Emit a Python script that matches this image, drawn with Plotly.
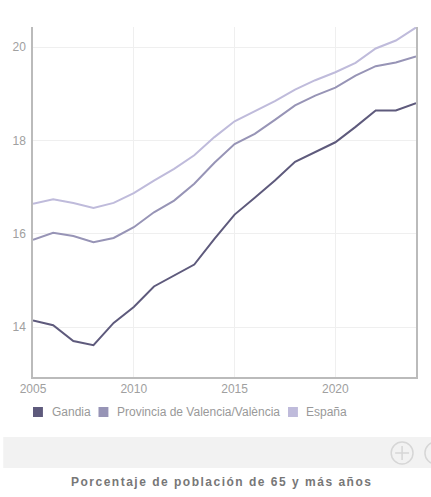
import plotly.graph_objects as go

years = list(range(2005, 2025))
gandia = [14.14, 14.04, 13.70, 13.61, 14.09, 14.43, 14.87, 15.11, 15.34, 15.89,
          16.41, 16.77, 17.14, 17.54, 17.75, 17.96, 18.29, 18.64, 18.64, 18.80]
provincia = [15.87, 16.02, 15.95, 15.82, 15.91, 16.14, 16.46, 16.71, 17.07, 17.52,
             17.92, 18.14, 18.44, 18.75, 18.96, 19.13, 19.39, 19.59, 19.67, 19.80]
espana = [16.64, 16.74, 16.66, 16.55, 16.66, 16.87, 17.14, 17.39, 17.68, 18.07,
          18.41, 18.62, 18.84, 19.09, 19.29, 19.46, 19.66, 19.97, 20.14, 20.42]

names = ["Gandia", "Provincia de Valencia/València", "España"]
series = [gandia, provincia, espana]
colors = ["#5e5a7c", "#9794b6", "#bfbbdb"]
title_text = "Porcentaje de población de 65 y más años"

FONT = "Liberation Sans"

fig = go.Figure()
for name, vals, col in zip(names, series, colors):
    fig.add_trace(go.Scatter(x=years, y=vals, mode="lines", name=name,
                             line=dict(color=col, width=2), showlegend=False,
                             hoverinfo="skip"))

W, H = 431, 497
L, R, T, B = 30, 15, 27, 120
pw, ph = W - L - R, H - T - B

def px(xp):
    return (xp - L) / pw

def py(yp):
    return (H - B - yp) / ph

shapes = [
    dict(type="rect", xref="paper", yref="paper", x0=px(0), x1=px(W), y0=py(468), y1=py(437),
         fillcolor="#f2f2f2", line=dict(width=0), layer="below"),
    dict(type="circle", xref="paper", yref="paper", x0=px(391), x1=px(413), y0=py(464), y1=py(442),
         line=dict(color="#d6d6d6", width=1.5)),
    dict(type="line", xref="paper", yref="paper", x0=px(395), x1=px(409), y0=py(453), y1=py(453),
         line=dict(color="#d6d6d6", width=1.5)),
    dict(type="line", xref="paper", yref="paper", x0=px(402), x1=px(402), y0=py(446), y1=py(460),
         line=dict(color="#d6d6d6", width=1.5)),
    dict(type="circle", xref="paper", yref="paper", x0=px(425), x1=px(447), y0=py(464), y1=py(442),
         line=dict(color="#d6d6d6", width=1.5)),
]

annotations = [dict(text="<b>" + title_text + "</b>",
                    xref="paper", yref="paper", x=px(220), y=py(482),
                    xanchor="center", yanchor="middle", showarrow=False,
                    font=dict(family=FONT, size=12, color="#777777"))]

# legend (squares + labels)
leg_sq = [30, 96, 287]
leg_tx = [47, 113, 303]
for name, col, sx, tx in zip(names, colors, leg_sq, leg_tx):
    shapes.append(dict(type="rect", xref="paper", yref="paper",
                       x0=px(sx), x1=px(sx + 10), y0=py(417), y1=py(407),
                       fillcolor=col, line=dict(width=0)))
    annotations.append(dict(text=name, xref="paper", yref="paper", x=px(tx), y=py(412),
                            xanchor="left", yanchor="middle", showarrow=False,
                            font=dict(family=FONT, size=12, color="#999999")))

fig.update_layout(
    width=W, height=H,
    margin=dict(l=L, r=R, t=T, b=B, pad=0),
    paper_bgcolor="white", plot_bgcolor="white",
    font=dict(family=FONT, size=12, color="#999999"),
    showlegend=False,
    xaxis=dict(range=[2005, 2024], tickvals=[2005, 2010, 2015, 2020],
               showgrid=True, gridcolor="#efefef", gridwidth=1,
               showline=True, linecolor="#bbbbbb", linewidth=1.5,
               ticks="", tickfont=dict(size=12, color="#a0a0a0"), zeroline=False,
               fixedrange=True),
    yaxis=dict(range=[12.93, 20.43], tickvals=[14, 16, 18, 20],
               showgrid=True, gridcolor="#efefef", gridwidth=1,
               showline=True, linecolor="#bbbbbb", linewidth=1.5, mirror=True,
               ticks="", tickfont=dict(size=12, color="#a0a0a0"), zeroline=False,
               ticklabelstandoff=3, fixedrange=True),
    shapes=shapes,
    annotations=annotations,
)

post = """
document.body.style.margin = '0';
var gd = document.getElementById('{plot_id}');
var els = gd.querySelectorAll('.annotation-text');
els.forEach(function(t){
  if (t.textContent.indexOf('Porcentaje') === 0) { t.style.letterSpacing = '1.5px'; }
});
"""

fig.write_html("out.html", config=dict(displayModeBar=False), post_script=post)
